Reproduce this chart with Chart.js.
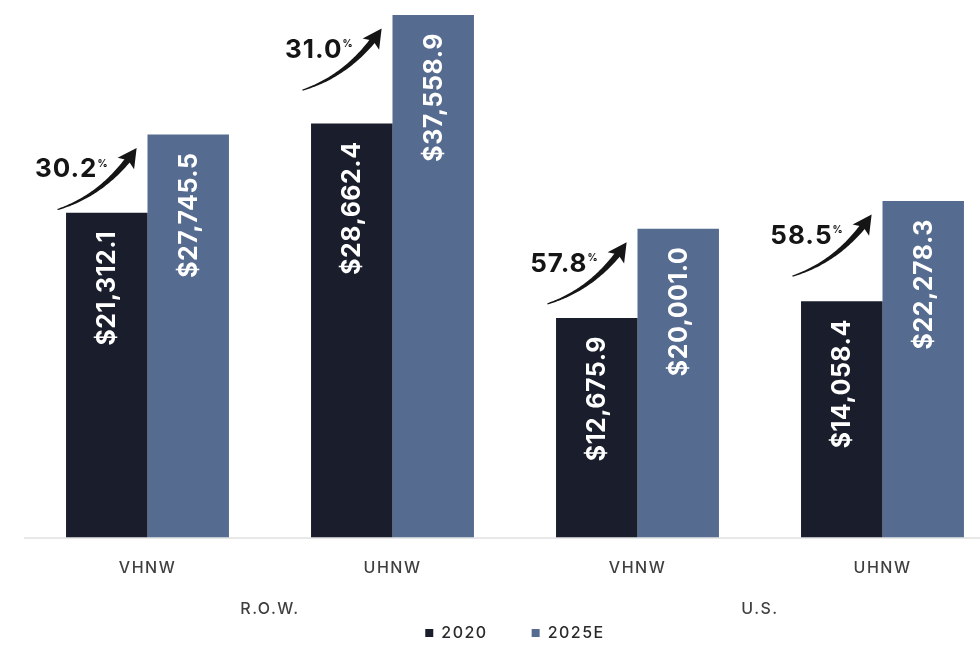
<!DOCTYPE html>
<html>
<head>
<meta charset="utf-8">
<script src="https://cdn.jsdelivr.net/npm/chart.js@4.4.1/dist/chart.umd.min.js"></script>
<style>
    html, body { margin: 0; padding: 0; background: #fff; overflow: hidden; }
    #wrap { width: 1005px; height: 690px; position: relative; }
</style>
</head>
<body>
<div id="wrap"><canvas id="myChart"></canvas></div>
<script>
const categories = ["VHNW", "UHNW", "VHNW", "UHNW"];
const regions = ["R.O.W.", "U.S."];
const seriesNames = ["2020", "2025E"];
const values2020 = [21312.1, 28662.4, 12675.9, 14058.4];
const values2025 = [27745.5, 37558.9, 20001.0, 22278.3];
const growth = ["30.2", "31.0", "57.8", "58.5"];

const yMin = -5370;
const yMax = 38800;
const darkColor = '#1a1d2c';
const blueColor = '#556b8f';
const textFont = 'Inter, "DejaVu Sans", sans-serif';

// chart.js does not expose letter spacing, so set it on the context
const spacing = {
    id: 'spacing',
    beforeLayout(chart) { chart.ctx.letterSpacing = '1.5px'; },
    beforeDraw(chart) { chart.ctx.letterSpacing = '1.5px'; }
};

// push the legend up so it can keep wide item padding
const legendShift = {
    id: 'legendShift',
    afterLayout(chart) {
        chart.legend.top -= 39;
        chart.legend.bottom -= 39;
    }
};

function money(v) {
    return '$' + v.toLocaleString('en-US', { minimumFractionDigits: 1, maximumFractionDigits: 1 });
}

function drawArrow(ctx, tail, ctrl, tip) {
    const pt = t => ({
        x: (1 - t) * (1 - t) * tail.x + 2 * (1 - t) * t * ctrl.x + t * t * tip.x,
        y: (1 - t) * (1 - t) * tail.y + 2 * (1 - t) * t * ctrl.y + t * t * tip.y
    });
    const dir = t => {
        const dx = 2 * (1 - t) * (ctrl.x - tail.x) + 2 * t * (tip.x - ctrl.x);
        const dy = 2 * (1 - t) * (ctrl.y - tail.y) + 2 * t * (tip.y - ctrl.y);
        const l = Math.hypot(dx, dy);
        return { x: dx / l, y: dy / l };
    };
    const left = [], right = [];
    for (let i = 0; i <= 60; i++) {
        const t = i / 60;
        const p = pt(t);
        if (Math.hypot(tip.x - p.x, tip.y - p.y) < 12) break;
        const d = dir(t);
        const w = 0.6 + 2.8 * t;
        left.push({ x: p.x - d.y * w, y: p.y + d.x * w });
        right.push({ x: p.x + d.y * w, y: p.y - d.x * w });
    }
    ctx.beginPath();
    left.forEach((p, i) => i ? ctx.lineTo(p.x, p.y) : ctx.moveTo(p.x, p.y));
    right.reverse().forEach(p => ctx.lineTo(p.x, p.y));
    ctx.closePath();
    ctx.fill();

    const d = dir(1);
    const n = { x: -d.y, y: d.x };
    const base = { x: tip.x - d.x * 17, y: tip.y - d.y * 17 };
    ctx.beginPath();
    ctx.moveTo(tip.x + d.x * 2, tip.y + d.y * 2);
    ctx.lineTo(base.x + n.x * 10, base.y + n.y * 10);
    ctx.lineTo(base.x + d.x * 4, base.y + d.y * 4);
    ctx.lineTo(base.x - n.x * 10, base.y - n.y * 10);
    ctx.closePath();
    ctx.fill();
}

const barLabels = {
    id: 'barLabels',
    afterDatasetsDraw(chart) {
        const ctx = chart.ctx;
        ctx.save();
        ctx.letterSpacing = '0.5px';

        // values inside the bars, rotated
        ctx.fillStyle = '#ffffff';
        ctx.font = 'bold 25px ' + textFont;
        ctx.textAlign = 'right';
        ctx.textBaseline = 'middle';
        chart.data.datasets.forEach((ds, i) => {
            chart.getDatasetMeta(i).data.forEach((bar, j) => {
                ctx.save();
                ctx.translate(bar.x + 1, bar.y + 18);
                ctx.rotate(-Math.PI / 2);
                ctx.fillText(money(ds.data[j]), 0, 0);
                ctx.restore();
            });
        });

        // growth arrows + percentages
        ctx.fillStyle = '#151515';
        chart.getDatasetMeta(1).data.forEach((bar, j) => {
            const barLeft = bar.x - bar.width / 2;
            const tip = { x: barLeft - 12, y: bar.y + 15 };
            const ctrl = { x: tip.x - 31, y: tip.y + 45 };
            const tail = { x: tip.x - 78, y: tip.y + 60 };
            drawArrow(ctx, tail, ctrl, tip);

            const tx = barLeft - 50;
            const ty = tip.y + 20;
            ctx.letterSpacing = '1px';
            ctx.font = 'bold 26px ' + textFont;
            ctx.textAlign = 'right';
            ctx.textBaseline = 'middle';
            ctx.fillText(growth[j], tx, ty);
            ctx.letterSpacing = '0px';
            ctx.font = 'bold 10px ' + textFont;
            ctx.textAlign = 'left';
            ctx.fillText('%', tx, ty - 6);
        });
        ctx.restore();
    }
};

const ctx = document.getElementById('myChart').getContext('2d');

const myChart = new Chart(ctx, {
    type: 'bar',
    data: {
        labels: categories,
        datasets: [
            {
                label: seriesNames[0],
                data: values2020,
                backgroundColor: darkColor,
                base: yMin,
                categoryPercentage: 0.665,
                barPercentage: 1.0
            },
            {
                label: seriesNames[1],
                data: values2025,
                backgroundColor: blueColor,
                base: yMin,
                categoryPercentage: 0.665,
                barPercentage: 1.0
            }
        ]
    },
    options: {
        responsive: true,
        maintainAspectRatio: false,
        animation: false,
        layout: { padding: { left: 25, right: 0, top: 0, bottom: 0 } },
        scales: {
            x: {
                grid: { display: false, drawTicks: false },
                border: { display: true, color: '#e8e8e8', width: 2 },
                ticks: { color: '#3f3f3f', font: { family: textFont, size: 16, weight: '500' }, padding: 21 }
            },
            x2: {
                type: 'category',
                labels: regions,
                position: 'bottom',
                offset: true,
                grid: { display: false, drawTicks: false },
                border: { display: false },
                ticks: { color: '#3f3f3f', font: { family: textFont, size: 16, weight: '500' }, padding: 1 }
            },
            y: { display: false, min: yMin, max: yMax }
        },
        plugins: {
            legend: {
                position: 'bottom',
                labels: {
                    boxWidth: 8,
                    boxHeight: 8,
                    padding: 44,
                    color: '#2a2a2a',
                    font: { family: textFont, size: 16, weight: '500' }
                }
            },
            tooltip: { enabled: false }
        }
    },
    plugins: [spacing, legendShift, barLabels]
});
</script>
</body>
</html>
